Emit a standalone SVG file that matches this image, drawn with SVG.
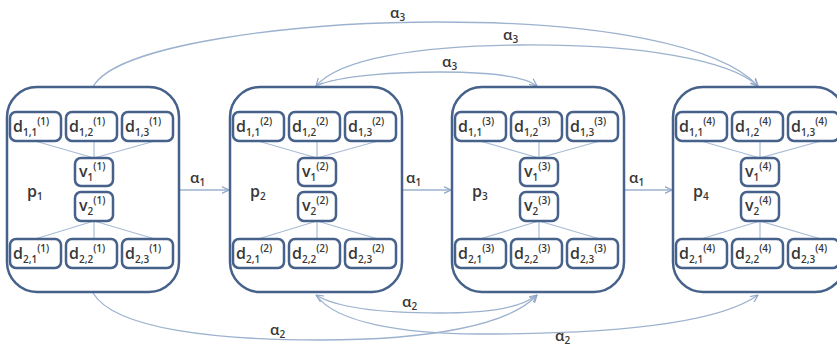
<svg xmlns="http://www.w3.org/2000/svg" width="837" height="348" viewBox="0 0 837 348">
<style>
.panel{fill:#fff;stroke:#46618a;stroke-width:2.5}
.box{fill:#fff;stroke:#46618a;stroke-width:2.5}
.inl{stroke:#a9bcd5;stroke-width:1.2;fill:none}
.con{stroke:#9cb2ce;stroke-width:1.3;fill:none}
.t{font-family:"Open Sans","Liberation Sans",sans-serif;font-size:16px;font-weight:600;fill:#383838}
.s{font-size:10px}
.lab{font-family:"Open Sans","Liberation Sans",sans-serif;font-size:15px;font-weight:600;fill:#383838}
</style>
<defs>
<marker id="arr" viewBox="0 0 8 8" refX="7.5" refY="4" markerWidth="8" markerHeight="8" markerUnits="userSpaceOnUse" orient="auto-start-reverse">
<path d="M0,0.5 L7.5,4 L0,7.5" fill="none" stroke="#8fa7c7" stroke-width="1.2"/>
</marker>
<g id="inner">
<line class="inl" x1="28" y1="54" x2="87" y2="71"/>
<line class="inl" x1="87" y1="54" x2="87" y2="71"/>
<line class="inl" x1="148" y1="54" x2="87" y2="71"/>
<line class="inl" x1="87" y1="134" x2="28" y2="152"/>
<line class="inl" x1="87" y1="134" x2="87" y2="152"/>
<line class="inl" x1="87" y1="134" x2="148" y2="152"/>
<rect class="box" x="3" y="25" width="51" height="29" rx="6"/>
<rect class="box" x="59" y="25" width="51" height="29" rx="6"/>
<rect class="box" x="115" y="25" width="51" height="29" rx="6"/>
<rect class="box" x="68" y="71" width="38" height="28" rx="6"/>
<rect class="box" x="68" y="105" width="38" height="29" rx="6"/>
<rect class="box" x="3" y="152" width="51" height="29" rx="6"/>
<rect class="box" x="59" y="152" width="51" height="29" rx="6"/>
<rect class="box" x="115" y="152" width="51" height="29" rx="6"/>
</g>
</defs>

<g id="connectors">
<path class="con" d="M179,190 L229,190" marker-end="url(#arr)"/>
<path class="con" d="M402,190 L451,190" marker-end="url(#arr)"/>
<path class="con" d="M623,190 L672,190" marker-end="url(#arr)"/>
<path class="con" d="M93,87 C115,45 290,22 440,22 C600,22 720,45 758,86" marker-end="url(#arr)"/>
<path class="con" d="M316,86 C340,58 420,46 520,45 C640,44 730,60 758,86" marker-start="url(#arr)" marker-end="url(#arr)"/>
<path class="con" d="M316,86 C340,75 400,72 440,72 C490,72 525,77 537,86" marker-end="url(#arr)"/>
<path class="con" d="M93,293 C115,330 220,340 320,340 C430,340 510,325 537,295" marker-end="url(#arr)"/>
<path class="con" d="M316,295 C340,310 390,313 440,313 C490,313 520,308 537,295" marker-start="url(#arr)" marker-end="url(#arr)"/>
<path class="con" d="M316,295 C335,322 400,334 480,334 C600,334 715,326 758,295" marker-end="url(#arr)"/>
<text class="lab" x="190" y="183">α<tspan class="s" dy="3">1</tspan></text>
<text class="lab" x="406" y="183">α<tspan class="s" dy="3">1</tspan></text>
<text class="lab" x="629" y="183">α<tspan class="s" dy="3">1</tspan></text>
<text class="lab" x="390" y="18">α<tspan class="s" dy="3">3</tspan></text>
<text class="lab" x="503" y="40">α<tspan class="s" dy="3">3</tspan></text>
<text class="lab" x="442" y="67">α<tspan class="s" dy="3">3</tspan></text>
<text class="lab" x="270" y="335">α<tspan class="s" dy="3">2</tspan></text>
<text class="lab" x="402" y="307">α<tspan class="s" dy="3">2</tspan></text>
<text class="lab" x="555" y="341">α<tspan class="s" dy="3">2</tspan></text>
</g>

<g id="p1" transform="translate(7,87)">
<rect class="panel" x="0" y="0" width="172" height="205" rx="30"/>
<use href="#inner"/>
<text class="t" x="20" y="110">p<tspan class="s" dy="3">1</tspan></text>
<text class="t" x="6" y="45">d<tspan class="s" dy="4">1,1</tspan><tspan class="s" dy="-11">(1)</tspan></text>
<text class="t" x="62" y="45">d<tspan class="s" dy="4">1,2</tspan><tspan class="s" dy="-11">(1)</tspan></text>
<text class="t" x="118" y="45">d<tspan class="s" dy="4">1,3</tspan><tspan class="s" dy="-11">(1)</tspan></text>
<text class="t" x="72" y="90">v<tspan class="s" dy="4">1</tspan><tspan class="s" dy="-11">(1)</tspan></text>
<text class="t" x="72" y="124">v<tspan class="s" dy="4">2</tspan><tspan class="s" dy="-11">(1)</tspan></text>
<text class="t" x="6" y="172">d<tspan class="s" dy="4">2,1</tspan><tspan class="s" dy="-11">(1)</tspan></text>
<text class="t" x="62" y="172">d<tspan class="s" dy="4">2,2</tspan><tspan class="s" dy="-11">(1)</tspan></text>
<text class="t" x="118" y="172">d<tspan class="s" dy="4">2,3</tspan><tspan class="s" dy="-11">(1)</tspan></text>
</g>

<g id="p2" transform="translate(230,87)">
<rect class="panel" x="0" y="0" width="172" height="205" rx="30"/>
<use href="#inner"/>
<text class="t" x="20" y="110">p<tspan class="s" dy="3">2</tspan></text>
<text class="t" x="6" y="45">d<tspan class="s" dy="4">1,1</tspan><tspan class="s" dy="-11">(2)</tspan></text>
<text class="t" x="62" y="45">d<tspan class="s" dy="4">1,2</tspan><tspan class="s" dy="-11">(2)</tspan></text>
<text class="t" x="118" y="45">d<tspan class="s" dy="4">1,3</tspan><tspan class="s" dy="-11">(2)</tspan></text>
<text class="t" x="72" y="90">v<tspan class="s" dy="4">1</tspan><tspan class="s" dy="-11">(2)</tspan></text>
<text class="t" x="72" y="124">v<tspan class="s" dy="4">2</tspan><tspan class="s" dy="-11">(2)</tspan></text>
<text class="t" x="6" y="172">d<tspan class="s" dy="4">2,1</tspan><tspan class="s" dy="-11">(2)</tspan></text>
<text class="t" x="62" y="172">d<tspan class="s" dy="4">2,2</tspan><tspan class="s" dy="-11">(2)</tspan></text>
<text class="t" x="118" y="172">d<tspan class="s" dy="4">2,3</tspan><tspan class="s" dy="-11">(2)</tspan></text>
</g>

<g id="p3" transform="translate(452,87)">
<rect class="panel" x="0" y="0" width="172" height="205" rx="30"/>
<use href="#inner"/>
<text class="t" x="20" y="110">p<tspan class="s" dy="3">3</tspan></text>
<text class="t" x="6" y="45">d<tspan class="s" dy="4">1,1</tspan><tspan class="s" dy="-11">(3)</tspan></text>
<text class="t" x="62" y="45">d<tspan class="s" dy="4">1,2</tspan><tspan class="s" dy="-11">(3)</tspan></text>
<text class="t" x="118" y="45">d<tspan class="s" dy="4">1,3</tspan><tspan class="s" dy="-11">(3)</tspan></text>
<text class="t" x="72" y="90">v<tspan class="s" dy="4">1</tspan><tspan class="s" dy="-11">(3)</tspan></text>
<text class="t" x="72" y="124">v<tspan class="s" dy="4">2</tspan><tspan class="s" dy="-11">(3)</tspan></text>
<text class="t" x="6" y="172">d<tspan class="s" dy="4">2,1</tspan><tspan class="s" dy="-11">(3)</tspan></text>
<text class="t" x="62" y="172">d<tspan class="s" dy="4">2,2</tspan><tspan class="s" dy="-11">(3)</tspan></text>
<text class="t" x="118" y="172">d<tspan class="s" dy="4">2,3</tspan><tspan class="s" dy="-11">(3)</tspan></text>
</g>

<g id="p4" transform="translate(673,87)">
<rect class="panel" x="0" y="0" width="172" height="205" rx="30"/>
<use href="#inner"/>
<text class="t" x="20" y="110">p<tspan class="s" dy="3">4</tspan></text>
<text class="t" x="6" y="45">d<tspan class="s" dy="4">1,1</tspan><tspan class="s" dy="-11">(4)</tspan></text>
<text class="t" x="62" y="45">d<tspan class="s" dy="4">1,2</tspan><tspan class="s" dy="-11">(4)</tspan></text>
<text class="t" x="118" y="45">d<tspan class="s" dy="4">1,3</tspan><tspan class="s" dy="-11">(4)</tspan></text>
<text class="t" x="72" y="90">v<tspan class="s" dy="4">1</tspan><tspan class="s" dy="-11">(4)</tspan></text>
<text class="t" x="72" y="124">v<tspan class="s" dy="4">2</tspan><tspan class="s" dy="-11">(4)</tspan></text>
<text class="t" x="6" y="172">d<tspan class="s" dy="4">2,1</tspan><tspan class="s" dy="-11">(4)</tspan></text>
<text class="t" x="62" y="172">d<tspan class="s" dy="4">2,2</tspan><tspan class="s" dy="-11">(4)</tspan></text>
<text class="t" x="118" y="172">d<tspan class="s" dy="4">2,3</tspan><tspan class="s" dy="-11">(4)</tspan></text>
</g>
</svg>
